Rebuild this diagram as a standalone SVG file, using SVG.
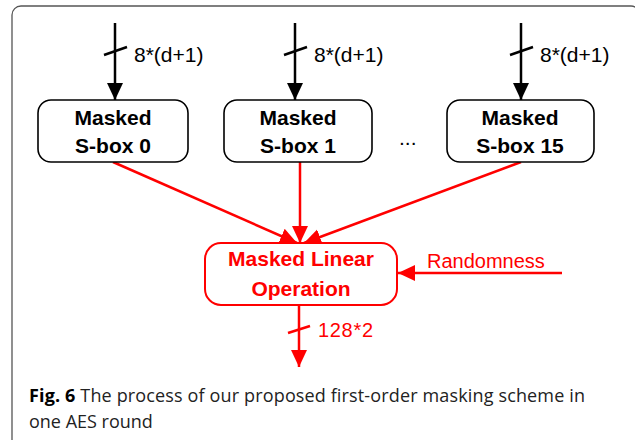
<svg xmlns="http://www.w3.org/2000/svg" width="635" height="440" viewBox="0 0 635 440">
<defs>
<marker id="ab" markerUnits="userSpaceOnUse" markerWidth="18" markerHeight="18" viewBox="0 0 18 18" refX="17" refY="9" orient="auto"><path d="M0,1 L17,9 L0,17 Z" fill="#000"/></marker>
<marker id="ar" markerUnits="userSpaceOnUse" markerWidth="18" markerHeight="18" viewBox="0 0 18 18" refX="17" refY="9" orient="auto"><path d="M0,1 L17,9 L0,17 Z" fill="#f00"/></marker>
<style>
.frame{fill:none;stroke:#555;stroke-width:1.3}
.box{fill:#fff;stroke:#000;stroke-width:1.6}
.rbox{fill:#fff;stroke:#f00;stroke-width:2}
.bl{stroke:#000;stroke-width:2.5;fill:none}
.rl{stroke:#f00;stroke-width:2.5;fill:none}
.bt{font-family:"Liberation Sans",Arial,sans-serif;font-weight:bold;font-size:21px;fill:#000;text-anchor:middle}
.rt{font-family:"Liberation Sans",Arial,sans-serif;font-weight:bold;font-size:21px;fill:#f00;text-anchor:middle}
.lbl{font-family:"Liberation Sans",Arial,sans-serif;font-size:21px;fill:#000}
.rlbl{font-family:"Liberation Sans",Arial,sans-serif;font-size:20px;fill:#f00}
.cap{font-family:"Open Sans","Liberation Sans",sans-serif;font-size:18px;fill:#222}
</style>
</defs>
<rect class="frame" x="12" y="6" width="628" height="470" rx="9"/>
<g id="connectors">
<line class="bl" x1="115" y1="23" x2="115" y2="100" marker-end="url(#ab)"/>
<line class="bl" x1="104" y1="55" x2="127" y2="47"/>
<line class="bl" x1="295" y1="23" x2="295" y2="100" marker-end="url(#ab)"/>
<line class="bl" x1="284" y1="55" x2="307" y2="47"/>
<line class="bl" x1="521" y1="23" x2="521" y2="100" marker-end="url(#ab)"/>
<line class="bl" x1="510" y1="55" x2="533" y2="47"/>
<line class="rl" x1="113" y1="162" x2="297" y2="243" marker-end="url(#ar)"/>
<line class="rl" x1="300" y1="162" x2="300" y2="243" marker-end="url(#ar)"/>
<line class="rl" x1="521" y1="162" x2="304" y2="243" marker-end="url(#ar)"/>
<line class="rl" x1="562" y1="273" x2="398" y2="273" marker-end="url(#ar)"/>
<line class="rl" x1="299" y1="305" x2="299" y2="367" marker-end="url(#ar)"/>
<line class="rl" x1="288" y1="333" x2="310" y2="326"/>
</g>
<g id="labels">
<text class="lbl" x="134" y="62">8*(d+1)</text>
<text class="lbl" x="314" y="62">8*(d+1)</text>
<text class="lbl" x="540" y="62">8*(d+1)</text>
<text class="rlbl" x="427" y="268">Randomness</text>
<text class="rlbl" x="318" y="337" textLength="55">128*2</text>
<text class="lbl" x="399" y="145" font-size="22">...</text>
</g>
<g id="sbox0">
<rect class="box" x="38" y="100" width="150" height="62" rx="13"/>
<text class="bt" x="113" y="125">Masked</text>
<text class="bt" x="113" y="153">S-box 0</text>
</g>
<g id="sbox1">
<rect class="box" x="224" y="100" width="148" height="62" rx="13"/>
<text class="bt" x="298" y="125">Masked</text>
<text class="bt" x="298" y="153">S-box 1</text>
</g>
<g id="sbox15">
<rect class="box" x="447" y="100" width="147" height="62" rx="13"/>
<text class="bt" x="520" y="125">Masked</text>
<text class="bt" x="520" y="153">S-box 15</text>
</g>
<g id="mlo">
<rect class="rbox" x="205" y="243" width="192" height="62" rx="16"/>
<text class="rt" x="301" y="266">Masked Linear</text>
<text class="rt" x="301" y="296">Operation</text>
</g>
<g id="caption">
<text class="cap" x="29" y="402" textLength="556"><tspan font-weight="bold" fill="#000">Fig. 6</tspan> The process of our proposed first-order masking scheme in</text>
<text class="cap" x="29" y="428">one AES round</text>
</g>
</svg>
